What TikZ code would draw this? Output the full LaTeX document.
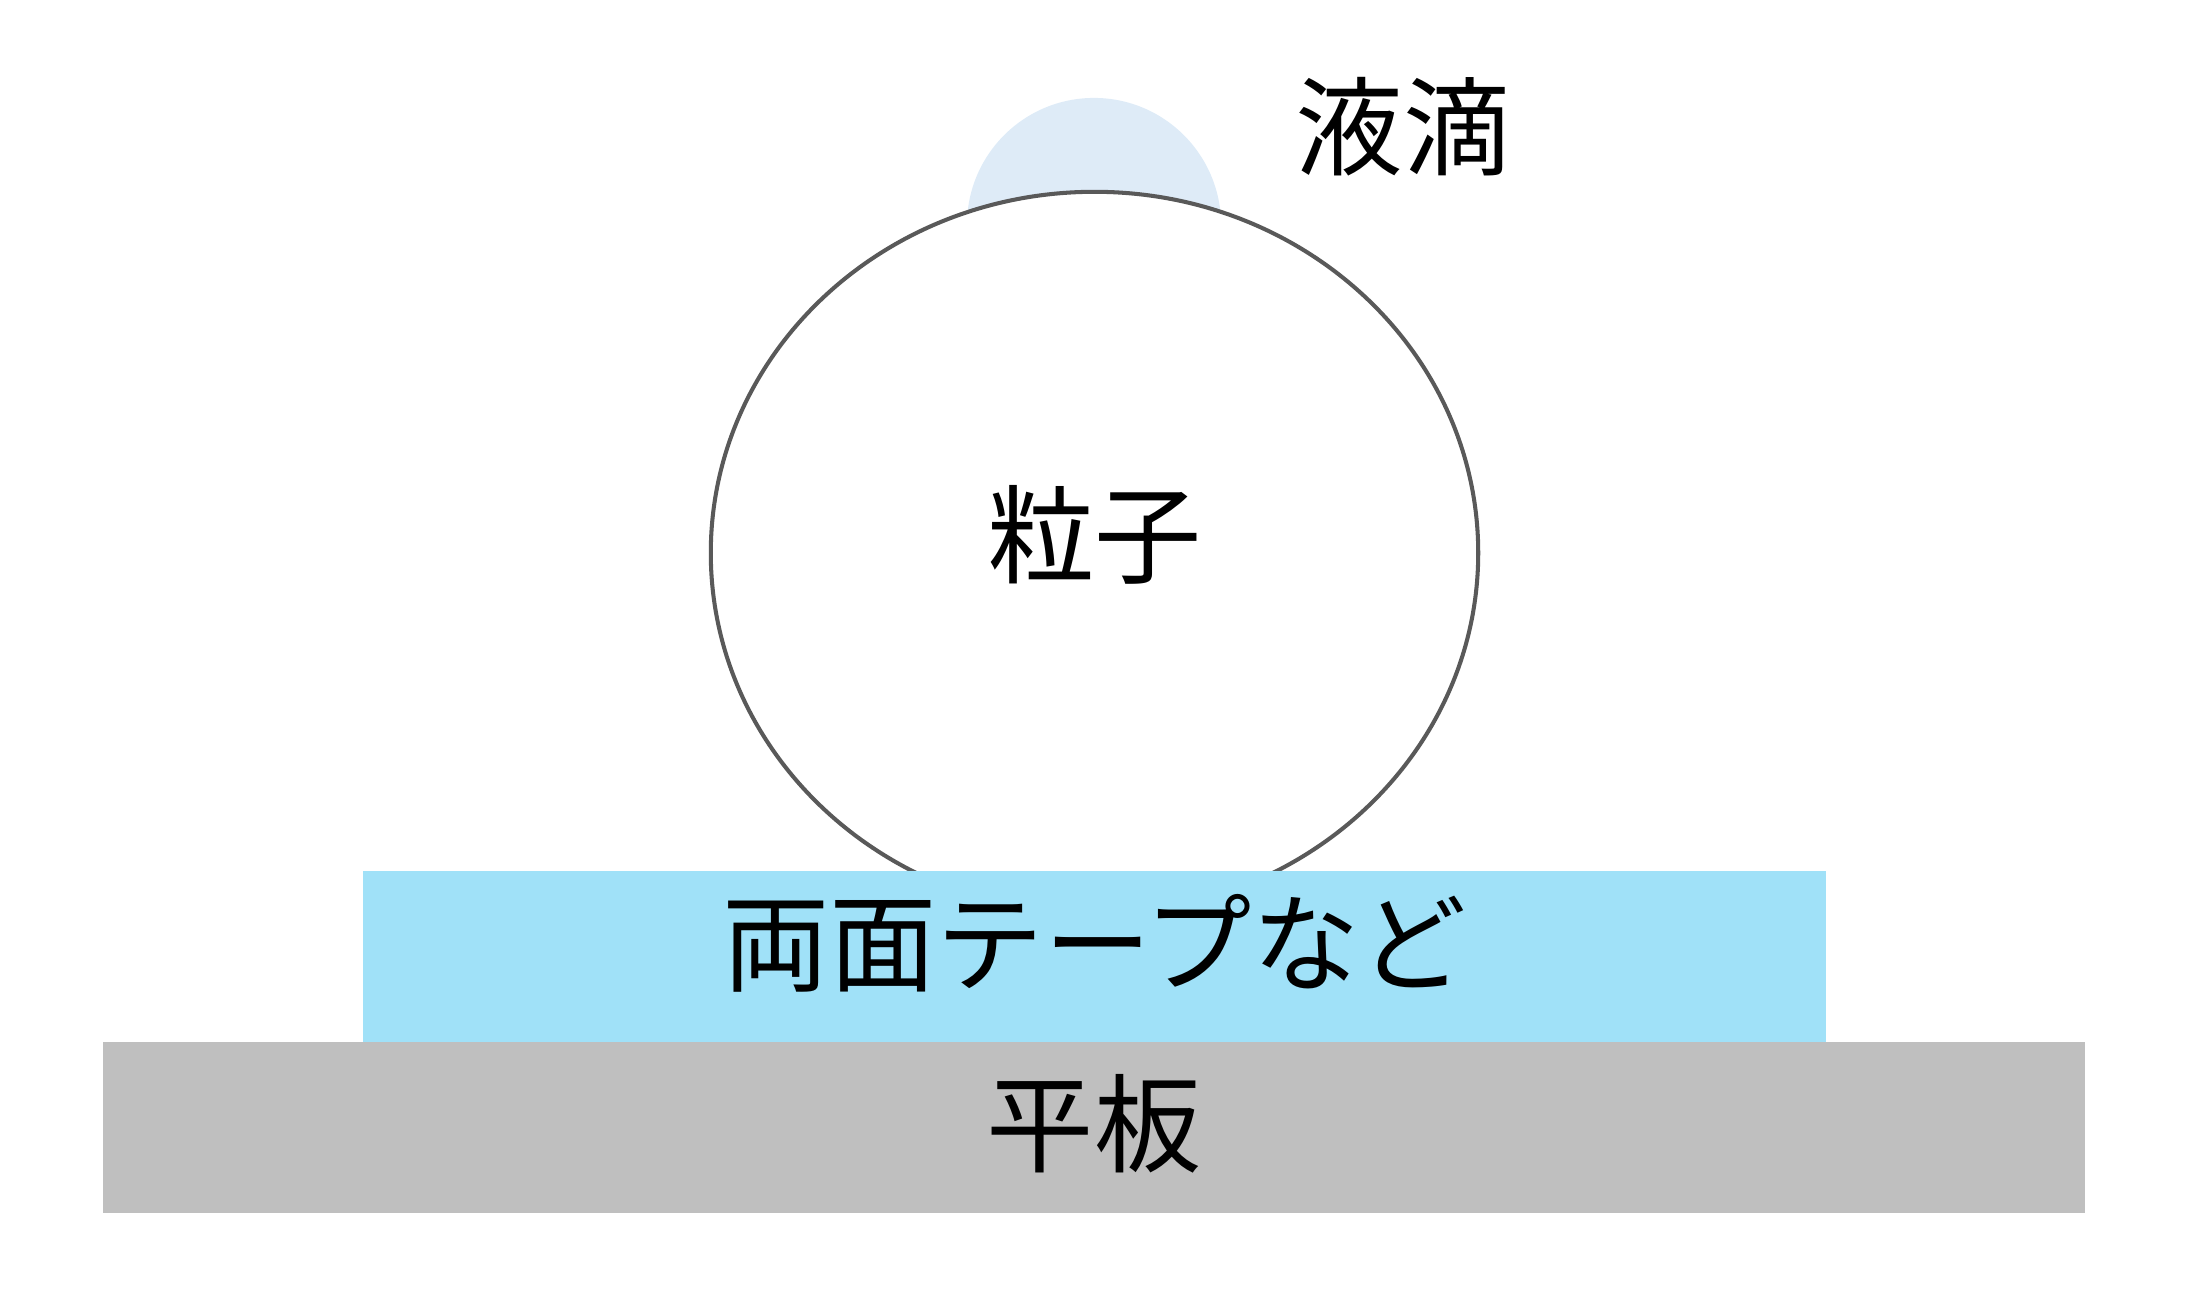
\documentclass[tikz,border=0pt]{standalone}
\usepackage{fontspec}
\newfontfamily\jpfont{Noto Sans CJK JP}
\usetikzlibrary{shapes.geometric}
\definecolor{dropblue}{HTML}{DEEBF7}
\definecolor{tapeblue}{HTML}{A0E1F8}
\definecolor{plategray}{HTML}{BFBFBF}
\definecolor{rimgray}{HTML}{595959}

\begin{document}
\begin{tikzpicture}[x=0.01cm, y=-0.01cm,
        jptext/.style = {font=\jpfont\fontsize{30.5}{36}\selectfont, inner sep=0pt},
        particle/.style = {draw=rimgray, fill=white, ellipse, line width=1.15pt, minimum width=7.67cm, minimum height=7.22cm, inner sep=0pt},
        layer/.style = {rectangle, inner sep=0pt, minimum height=1.71cm}]
        \useasboundingbox (0,0) rectangle (2200,1306);

        \fill[dropblue] (1094,225) circle[radius=1.27cm];
        \node[particle] (grain) at (1094.5,553) {};

        \node[layer, fill=tapeblue, minimum width=14.63cm] (tape) at (1094.5,956.5) {};
        \node[layer, fill=plategray, minimum width=19.80cm] (plate) at (1094,1127.5) {};

        \node[jptext] (grain text) at ([yshift=0.18cm]grain.center) {粒子};
        \node[jptext] (tape text) at ([yshift=0.135cm]tape.center) {両面テープなど};
        \node[jptext] (plate text) at ([yshift=0.035cm]plate.center) {平板};
        \node[jptext] (drop) at (1403,127) {液滴};

\end{tikzpicture}
\end{document}
